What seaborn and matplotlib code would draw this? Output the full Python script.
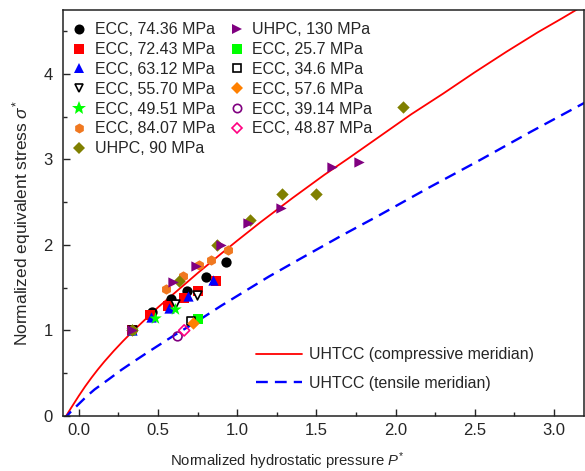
import matplotlib
matplotlib.use("Agg")
import matplotlib.pyplot as plt
import seaborn as sns
import pandas as pd
from matplotlib.lines import Line2D

sns.set_style("ticks")
plt.rcParams["font.family"] = ["Liberation Sans", "DejaVu Sans"]
plt.rcParams["mathtext.fontset"] = "custom"
plt.rcParams["mathtext.rm"] = "Liberation Sans"
plt.rcParams["mathtext.it"] = "Liberation Sans:italic"
plt.rcParams["font.size"] = 11

# ---- failure-surface meridians (P*, sigma*) ----
comp_p = [-0.10, -0.05, 0.00, 0.04, 0.08, 0.12, 0.16, 0.22, 0.28, 0.33, 0.40, 0.50,
          0.60, 0.75, 0.90, 1.00, 1.15, 1.35, 1.55, 1.70, 1.90, 2.10, 2.30, 2.50,
          2.70, 2.90, 3.05, 3.15]
comp_s = [-0.06, 0.09, 0.235, 0.345, 0.447, 0.543, 0.633, 0.759, 0.877, 0.97, 1.095, 1.27,
          1.43, 1.67, 1.90, 2.05, 2.27, 2.55, 2.82, 3.01, 3.27, 3.53, 3.77, 4.02,
          4.26, 4.49, 4.65, 4.76]
tens_p = [-0.10, -0.05, 0.00, 0.05, 0.10, 0.19, 0.27, 0.35, 0.44, 0.60, 0.75, 0.90,
          1.05, 1.20, 1.40, 1.66, 1.90, 2.21, 2.53, 2.85, 3.20]
tens_s = [-0.05, 0.05, 0.14, 0.23, 0.31, 0.43, 0.54, 0.64, 0.75, 0.94, 1.11, 1.29,
          1.46, 1.63, 1.84, 2.11, 2.35, 2.67, 2.99, 3.32, 3.67]

# ---- test data ----
ecc_7436_p = [0.333, 0.46, 0.58, 0.68, 0.80, 0.93]
ecc_7436_s = [1.00, 1.21, 1.37, 1.46, 1.63, 1.80]
ecc_7243_p = [0.333, 0.45, 0.56, 0.666, 0.755, 0.867]
ecc_7243_s = [1.00, 1.18, 1.28, 1.38, 1.46, 1.575]
ecc_6312_p = [0.333, 0.456, 0.57, 0.69, 0.845]
ecc_6312_s = [1.00, 1.16, 1.26, 1.40, 1.59]
ecc_5570_p = [0.333, 0.61, 0.744]
ecc_5570_s = [1.00, 1.31, 1.42]
ecc_4951_p = [0.333, 0.48, 0.61]
ecc_4951_s = [1.00, 1.15, 1.25]
ecc_8407_p = [0.333, 0.55, 0.66, 0.76, 0.835, 0.94]
ecc_8407_s = [1.00, 1.49, 1.64, 1.77, 1.82, 1.94]
uhpc_90_p = [0.333, 0.63, 0.873, 1.08, 1.284, 1.498, 2.045]
uhpc_90_s = [1.00, 1.575, 2.00, 2.295, 2.60, 2.60, 3.61]
uhpc_130_p = [0.333, 0.593, 0.74, 0.898, 1.066, 1.277, 1.60, 1.77]
uhpc_130_s = [1.00, 1.57, 1.75, 2.00, 2.26, 2.43, 2.91, 2.965]
ecc_257_p = [0.75]
ecc_257_s = [1.135]
ecc_346_p = [0.71]
ecc_346_s = [1.11]
ecc_576_p = [0.723]
ecc_576_s = [1.09]
ecc_3914_p = [0.624]
ecc_3914_s = [0.93]
ecc_4887_p = [0.665]
ecc_4887_s = [1.00]

series = [
    ("ECC, 74.36 MPa", ecc_7436_p, ecc_7436_s, "o", "black", "black"),
    ("ECC, 72.43 MPa", ecc_7243_p, ecc_7243_s, "s", "#FF0000", "#FF0000"),
    ("ECC, 63.12 MPa", ecc_6312_p, ecc_6312_s, "^", "#0000FF", "#0000FF"),
    ("ECC, 55.70 MPa", ecc_5570_p, ecc_5570_s, "v", "white", "black"),
    ("ECC, 49.51 MPa", ecc_4951_p, ecc_4951_s, "*", "#00FF00", "#00FF00"),
    ("ECC, 84.07 MPa", ecc_8407_p, ecc_8407_s, "h", "#F07820", "#F07820"),
    ("UHPC, 90 MPa", uhpc_90_p, uhpc_90_s, "D", "#808000", "#808000"),
    ("UHPC, 130 MPa", uhpc_130_p, uhpc_130_s, ">", "#800080", "#800080"),
    ("ECC, 25.7 MPa", ecc_257_p, ecc_257_s, "s", "#00FF00", "#00FF00"),
    ("ECC, 34.6 MPa", ecc_346_p, ecc_346_s, "s", "white", "black"),
    ("ECC, 57.6 MPa", ecc_576_p, ecc_576_s, "D", "#FF8000", "#FF8000"),
    ("ECC, 39.14 MPa", ecc_3914_p, ecc_3914_s, "o", "none", "#800080"),
    ("ECC, 48.87 MPa", ecc_4887_p, ecc_4887_s, "D", "none", "#FF0080"),
]

fig = plt.figure(figsize=(5.85, 4.71), dpi=100)
ax = fig.add_axes([0.1077, 0.117, 0.8906, 0.862])

comp = pd.DataFrame({"P": comp_p, "S": comp_s})
tens = pd.DataFrame({"P": tens_p, "S": tens_s})
sns.lineplot(data=comp, x="P", y="S", sort=False, estimator=None, color="#FF0000",
             linewidth=1.3, ax=ax, legend=False)
sns.lineplot(data=tens, x="P", y="S", sort=False, estimator=None, color="#0000FF",
             linewidth=1.7, ax=ax, legend=False)
ax.lines[1].set_dashes([5, 3])

handles = []
for label, px, sy, mk, fc, ec in series:
    hollow = fc in ("none", "white")
    if mk == "*":
        size, ms = 90, 10
    elif mk == "D":
        size, ms = (32, 5.4) if hollow else (40, 6.2)
    elif hollow:
        size, ms = 40, 6.0
    else:
        size, ms = 55, 7.2
    df = pd.DataFrame({"P": px, "S": sy})
    sns.scatterplot(data=df, x="P", y="S", marker=mk, s=size, color=ec,
                    facecolor=fc, edgecolor=ec, linewidth=1.2 if hollow else 0,
                    ax=ax, legend=False, zorder=3)
    handles.append(Line2D([], [], linestyle="none", marker=mk, markersize=ms,
                          markerfacecolor=fc, markeredgecolor=ec,
                          markeredgewidth=1.2 if hollow else 0, label=label))

ax.set_xlim(-0.1, 3.19)
ax.set_ylim(0, 4.75)
ax.set_xticks([0.0, 0.5, 1.0, 1.5, 2.0, 2.5, 3.0])
ax.set_xticklabels(["0.0", "0.5", "1.0", "1.5", "2.0", "2.5", "3.0"])
ax.set_yticks([0, 1, 2, 3, 4])
ax.set_xticks([0.25, 0.75, 1.25, 1.75, 2.25, 2.75], minor=True)
ax.set_yticks([0.5, 1.5, 2.5, 3.5, 4.5], minor=True)
ax.tick_params(which="both", direction="in", top=False, right=False, labelsize=12, width=1)
ax.tick_params(which="major", length=5)
ax.tick_params(axis="x", which="major", pad=5)
ax.tick_params(axis="y", which="major", pad=7.5)
ax.tick_params(which="minor", length=3)
for sp in ax.spines.values():
    sp.set_linewidth(1.1)
    sp.set_color("#222222")

ax.set_xlabel(r"Normalized hydrostatic pressure $P^{*}$", fontsize=10.7)
ax.set_ylabel(r"Normalized equivalent stress $\sigma^{*}$", fontsize=12.5)
ax.xaxis.set_label_coords(0.43, -0.085)
ax.yaxis.set_label_coords(-0.058, 0.475)

leg1 = ax.legend(handles=handles, loc="upper left", bbox_to_anchor=(0.004, 0.985),
                 borderaxespad=0.0, ncol=2, frameon=False, handlelength=1.0,
                 handletextpad=0.45, columnspacing=0.9, labelspacing=0.3, fontsize=11.5)
ax.add_artist(leg1)

line_handles = [
    Line2D([], [], color="#FF0000", linewidth=1.3, label="UHTCC (compressive meridian)"),
    Line2D([], [], color="#0000FF", linewidth=1.7, dashes=[5, 3], label="UHTCC (tensile meridian)"),
]
ax.legend(handles=line_handles, loc="upper left", bbox_to_anchor=(0.359, 0.185),
          borderaxespad=0.0, frameon=False, handlelength=2.9, handletextpad=0.45,
          labelspacing=0.85, fontsize=11.4)

fig.savefig("out.png", dpi=100)
